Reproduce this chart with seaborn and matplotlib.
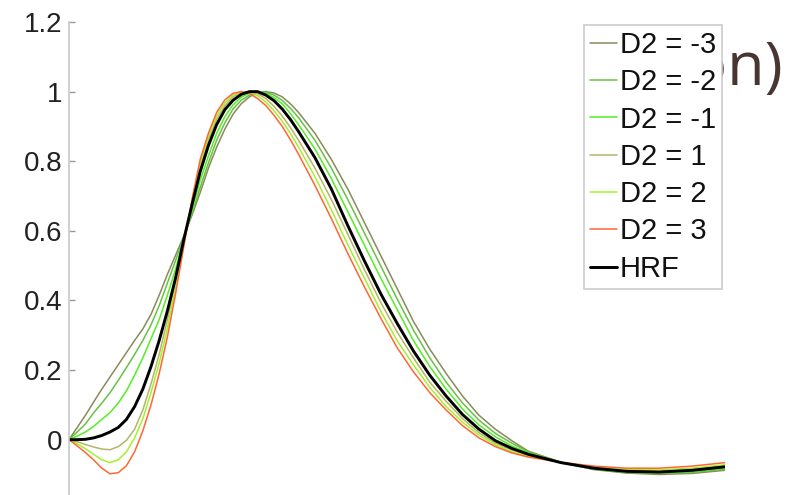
import numpy as np
import pandas as pd
import matplotlib
matplotlib.use("Agg")
import matplotlib.pyplot as plt
import seaborn as sns

# time axis (s)
t = [0, 0.25, 0.5, 0.75, 1.0, 1.25, 1.5, 1.75, 2.0, 2.25, 2.5, 2.75, 3.0, 3.25, 3.5, 3.75,
     4.0, 4.25, 4.5, 4.75, 5.0, 5.25, 5.5, 5.75, 6.0, 6.25, 6.5, 6.75, 7.0,
     7.5, 8.0, 8.5, 9.0, 9.5, 10.0, 10.5, 11.0, 11.5, 12.0, 12.5, 13.0, 13.5, 14.0,
     15, 16, 17, 18, 19, 20]

hrf = [0, 0.0, 0.001, 0.005, 0.012, 0.022, 0.035, 0.058, 0.095, 0.145, 0.21, 0.285, 0.37, 0.465, 0.575, 0.675,
       0.77, 0.845, 0.905, 0.948, 0.975, 0.992, 1.0, 1.0, 0.99, 0.974, 0.95, 0.92, 0.885,
       0.81, 0.72, 0.615, 0.515, 0.42, 0.335, 0.255, 0.185, 0.125, 0.072, 0.03, -0.003, -0.025, -0.042,
       -0.066, -0.082, -0.091, -0.093, -0.088, -0.078]

d2_m3 = [0, 0.035, 0.07, 0.108, 0.145, 0.18, 0.215, 0.25, 0.285, 0.318, 0.36, 0.415, 0.475, 0.53, 0.585, 0.645,
         0.71, 0.78, 0.84, 0.892, 0.935, 0.965, 0.985, 0.997, 1.0, 0.996, 0.985, 0.965, 0.94,
         0.88, 0.805, 0.72, 0.625, 0.53, 0.435, 0.34, 0.26, 0.19, 0.125, 0.07, 0.03, -0.003, -0.033,
         -0.065, -0.086, -0.096, -0.1, -0.097, -0.088]

d2_m2 = [0, 0.022, 0.045, 0.077, 0.105, 0.135, 0.17, 0.207, 0.245, 0.285, 0.33, 0.385, 0.45, 0.515, 0.582, 0.65,
         0.725, 0.795, 0.86, 0.91, 0.95, 0.975, 0.99, 0.998, 0.998, 0.99, 0.975, 0.952, 0.925,
         0.86, 0.78, 0.69, 0.595, 0.5, 0.405, 0.315, 0.235, 0.165, 0.105, 0.056, 0.018, -0.01, -0.035,
         -0.066, -0.085, -0.094, -0.097, -0.094, -0.085]

d2_m1 = [0, 0.01, 0.022, 0.038, 0.058, 0.078, 0.105, 0.14, 0.185, 0.235, 0.29, 0.345, 0.415, 0.49, 0.578, 0.66,
         0.745, 0.815, 0.88, 0.928, 0.962, 0.984, 0.995, 0.999, 0.995, 0.983, 0.965, 0.937, 0.905,
         0.835, 0.75, 0.655, 0.56, 0.465, 0.375, 0.285, 0.21, 0.145, 0.088, 0.042, 0.008, -0.018, -0.038,
         -0.066, -0.084, -0.093, -0.095, -0.091, -0.082]

d2_p1 = [0, -0.006, -0.014, -0.021, -0.027, -0.029, -0.02, -0.002, 0.03, 0.085, 0.16, 0.245, 0.345, 0.455, 0.57, 0.68,
         0.785, 0.86, 0.92, 0.959, 0.985, 0.997, 1.0, 0.994, 0.98, 0.958, 0.93, 0.897, 0.86,
         0.78, 0.69, 0.59, 0.49, 0.395, 0.31, 0.235, 0.165, 0.11, 0.06, 0.02, -0.01, -0.03, -0.045,
         -0.066, -0.081, -0.089, -0.09, -0.085, -0.075]

d2_p2 = [0, -0.012, -0.026, -0.042, -0.058, -0.066, -0.058, -0.035, 0.005, 0.06, 0.135, 0.22, 0.32, 0.44, 0.565, 0.685,
         0.795, 0.87, 0.93, 0.967, 0.99, 0.999, 0.998, 0.988, 0.97, 0.945, 0.915, 0.88, 0.84,
         0.755, 0.66, 0.56, 0.465, 0.37, 0.285, 0.215, 0.15, 0.095, 0.05, 0.013, -0.015, -0.035, -0.048,
         -0.066, -0.079, -0.086, -0.087, -0.082, -0.072]

d2_p3 = [0, -0.018, -0.037, -0.058, -0.082, -0.098, -0.095, -0.075, -0.035, 0.025, 0.1, 0.19, 0.295, 0.42, 0.555, 0.69,
         0.805, 0.88, 0.94, 0.976, 0.995, 1.0, 0.995, 0.98, 0.96, 0.932, 0.9, 0.862, 0.82,
         0.73, 0.635, 0.535, 0.44, 0.35, 0.265, 0.195, 0.135, 0.085, 0.04, 0.005, -0.02, -0.038, -0.05,
         -0.065, -0.076, -0.082, -0.082, -0.076, -0.066]

labels = ["D2 = -3", "D2 = -2", "D2 = -1", "D2 = 1", "D2 = 2", "D2 = 3"]
colors = ["#8a8a5c", "#66c244", "#55ee22", "#b4b46a", "#a6f02a", "#ff6633"]
series = [d2_m3, d2_m2, d2_m1, d2_p1, d2_p2, d2_p3]

df = pd.DataFrame({"t": t * len(series),
                   "value": np.concatenate(series),
                   "label": np.repeat(labels, len(t))})

sns.set_style("white")
plt.rcParams['font.family'] = ['Liberation Sans', 'DejaVu Sans']

fig = plt.figure(figsize=(7.9, 4.95), dpi=100)
ax = fig.add_axes([69 / 790, 0, 656 / 790, 473 / 495])

sns.lineplot(data=df, x="t", y="value", hue="label", hue_order=labels,
             palette=colors, linewidth=1.1, ax=ax, legend=False)
sns.lineplot(x=t, y=hrf, color="black", linewidth=2.1, ax=ax)

ax.set_xlim(0, 20)
ax.set_ylim(-0.159, 1.2)
ax.set_yticks([0, 0.2, 0.4, 0.6, 0.8, 1.0, 1.2])
ax.set_yticklabels(["0", "0.2", "0.4", "0.6", "0.8", "1", "1.2"])
ax.set_xticks([])
ax.set_xlabel("")
ax.set_ylabel("")
for s in ["top", "right", "bottom"]:
    ax.spines[s].set_visible(False)
ax.spines["left"].set_color("#c8c8c8")
ax.spines["left"].set_linewidth(1.2)
ax.tick_params(axis="y", direction="in", length=4, width=1, color="#999999",
               labelsize=20, labelcolor="#222222", pad=5, left=True)

# slide title fragment sitting behind the legend
ax.text(783 / 790, 1 - 85 / 495, "ion)", transform=fig.transFigure, ha="right",
        va="baseline", fontsize=44, family="Open Sans", color="#4a3631", zorder=1)

handles = ax.get_lines()[:7]
leg = ax.legend(handles, labels + ["HRF"], loc="upper right",
                bbox_to_anchor=(722 / 790, 1 - 25 / 495), bbox_transform=fig.transFigure,
                borderaxespad=0, fontsize=21, frameon=True, fancybox=False, framealpha=1,
                edgecolor="#cccccc", handlelength=0.93, handletextpad=0.1,
                labelspacing=0.32, borderpad=0.2)
leg.set_zorder(5)
leg.get_frame().set_linewidth(1.2)
for txt in leg.get_texts():
    txt.set_color("#111111")

fig.savefig("out.png", dpi=100)
